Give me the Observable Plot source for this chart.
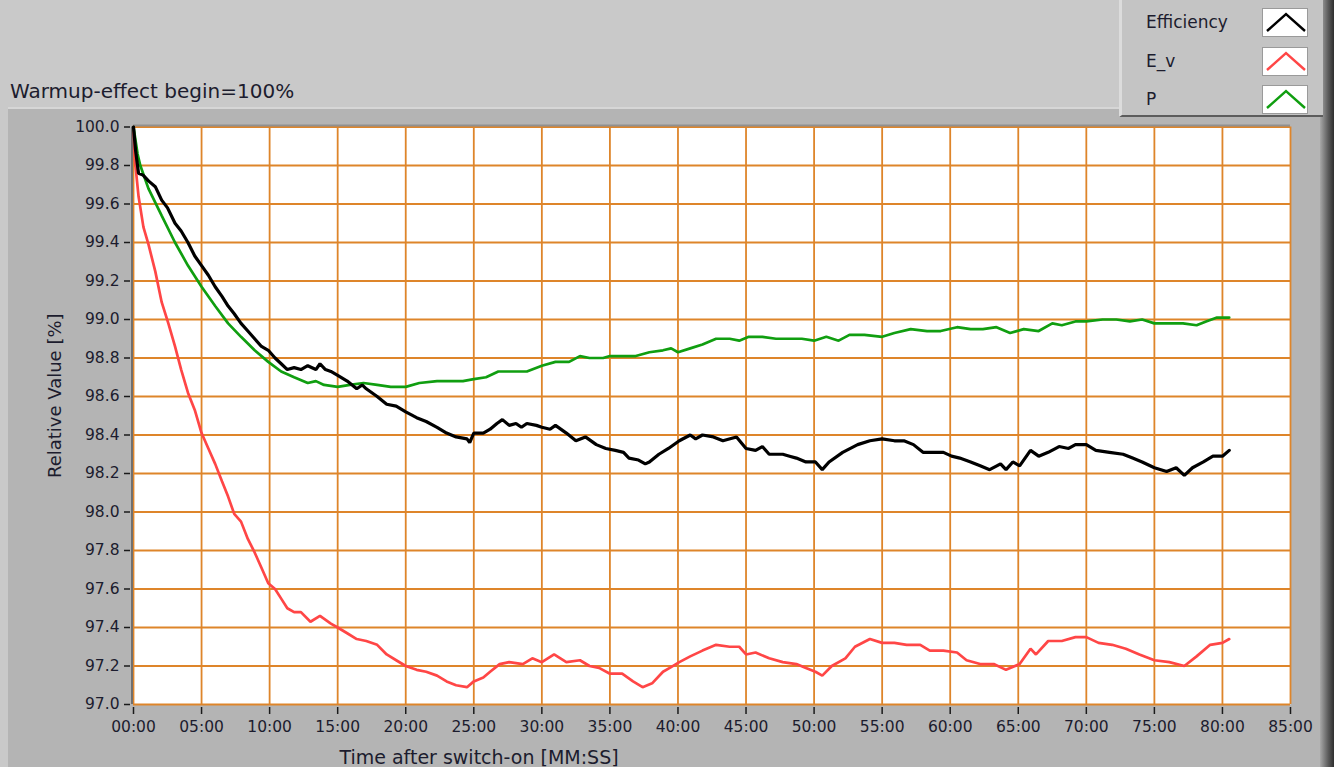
<!DOCTYPE html>
<html>
<head>
<meta charset="utf-8">
<script src="https://cdn.jsdelivr.net/npm/d3@7"></script>
<script src="https://cdn.jsdelivr.net/npm/@observablehq/plot@0.6"></script>
<style>
html, body { margin: 0; padding: 0; }
body { width: 1334px; height: 767px; background: #c9c9c9; position: relative; overflow: hidden;
  font-family: "DejaVu Sans", sans-serif; color: #1c1c2e; }
#panel { position: absolute; left: 8px; top: 107px; width: 1312px; height: 660px; background: #b4b4b4;
  border-top: 2px solid #d6d6d6; }
#rightedge { position: absolute; left: 1320px; top: 0; width: 14px; height: 767px;
  background: linear-gradient(to right, #a8a8a8, #5a5a5a 60%, #2e2e2e); }
#title { position: absolute; left: 10px; top: 79px; font-size: 20px; white-space: nowrap; }
#legend { position: absolute; left: 1119px; top: 0; width: 201px; height: 115px; background: #c4c4c4;
  border-left: 3px solid #dcdcdc; border-bottom: 2px solid #5c5c5c; }
.item { position: absolute; left: 24px; font-size: 17px; white-space: nowrap; }
.sw { position: absolute; left: 140px; width: 46px; height: 29px; background: #fff; border: 1px solid #9a9a9a; box-sizing: border-box; }
#chart { position: absolute; left: 0; top: 100px; }
</style>
</head>
<body>
<div id="panel"></div>
<div id="rightedge"></div>
<div id="title"></div>
<div id="legend"></div>
<div id="chart"></div>
<script>
// ---- Data (minutes after switch-on, relative value %) ----
const titleText = "Warmup-effect begin=100%";
const xLabel = "Time after switch-on [MM:SS]";
const yLabel = "Relative Value [%]";
const seriesNames = ["Efficiency", "E_v", "P"];
const xTicks = [0, 5, 10, 15, 20, 25, 30, 35, 40, 45, 50, 55, 60, 65, 70, 75, 80, 85];
const yTicks = [97.0, 97.2, 97.4, 97.6, 97.8, 98.0, 98.2, 98.4, 98.6, 98.8, 99.0, 99.2, 99.4, 99.6, 99.8, 100.0];

const efficiency = [
  [0,100.0],[0.15,99.88],[0.37,99.76],[0.7,99.75],[1.1,99.72],[1.6,99.69],[2.07,99.62],[2.5,99.58],[3.05,99.50],[3.5,99.46],[4.0,99.40],
  [4.5,99.33],[5.0,99.28],[5.5,99.23],[6.0,99.17],[6.5,99.12],[6.95,99.07],[7.4,99.03],[7.9,98.98],[8.4,98.94],[8.9,98.90],[9.4,98.86],[9.9,98.84],
  [10.4,98.80],[10.85,98.77],[11.3,98.74],[11.8,98.75],[12.3,98.74],[12.8,98.76],[13.4,98.74],[13.7,98.77],[14.1,98.74],[14.5,98.73],
  [15,98.71],[15.7,98.68],[16.4,98.64],[16.8,98.66],[17.1,98.64],[17.9,98.60],[18.6,98.56],[19.3,98.55],[20,98.52],
  [20.8,98.49],[21.5,98.47],[22.3,98.44],[23.0,98.41],[23.7,98.39],[24.5,98.38],[24.7,98.36],[25,98.41],[25.7,98.41],
  [26.2,98.43],[26.7,98.46],[27.1,98.48],[27.6,98.45],[28.1,98.46],[28.5,98.44],[28.9,98.46],[29.6,98.45],[30,98.44],[30.6,98.43],[31.0,98.45],
  [31.8,98.41],[32.5,98.37],[33.2,98.39],[34.0,98.35],[34.7,98.33],[35.4,98.32],[36.0,98.31],[36.4,98.28],[37.1,98.27],[37.6,98.25],[37.9,98.26],
  [38.6,98.30],[39.3,98.33],[40.1,98.37],[40.9,98.40],[41.3,98.38],[41.8,98.40],[42.6,98.39],[43.3,98.37],[44.3,98.39],
  [45,98.33],[45.7,98.32],[46.2,98.34],[46.7,98.30],[47.7,98.30],[48.2,98.29],[48.7,98.28],[49.4,98.26],[50.1,98.26],[50.6,98.22],[51.1,98.26],
  [52.1,98.31],[53.2,98.35],[54.1,98.37],[55,98.38],[55.9,98.37],[56.6,98.37],[57.3,98.35],[58.0,98.31],[58.8,98.31],
  [59.5,98.31],[60.1,98.29],[60.7,98.28],[61.5,98.26],[62.2,98.24],[62.9,98.22],[63.7,98.25],[64.1,98.22],[64.6,98.26],
  [65.1,98.24],[65.9,98.32],[66.5,98.29],[67.2,98.31],[68.0,98.34],[68.7,98.33],[69.2,98.35],[70,98.35],[70.7,98.32],
  [71.7,98.31],[72.7,98.30],[73.4,98.28],[74.1,98.26],[75,98.23],[75.9,98.21],[76.6,98.23],[77.2,98.19],[77.8,98.23],
  [78.6,98.26],[79.3,98.29],[80,98.29],[80.5,98.32]
];

const eV = [
  [0,100.0],[0.1,99.83],[0.37,99.64],[0.73,99.48],[1.1,99.39],[1.6,99.25],[2.07,99.09],[2.56,98.98],[3.05,98.86],
  [3.5,98.74],[4.0,98.62],[4.5,98.53],[5.0,98.41],[5.5,98.33],[6.0,98.25],[6.5,98.16],[6.95,98.08],[7.4,97.99],
  [7.9,97.95],[8.4,97.86],[8.9,97.79],[9.4,97.71],[9.9,97.63],[10.4,97.60],[10.85,97.55],[11.3,97.50],[11.8,97.48],
  [12.3,97.48],[13.0,97.43],[13.7,97.46],[14.5,97.42],[15,97.40],[15.7,97.37],[16.4,97.34],[17.1,97.33],[17.9,97.31],
  [18.6,97.26],[19.3,97.23],[20,97.20],[20.8,97.18],[21.5,97.17],[22.3,97.15],[23.0,97.12],[23.7,97.10],[24.5,97.09],
  [25,97.12],[25.7,97.14],[26.2,97.17],[26.9,97.21],[27.6,97.22],[28.6,97.21],[29.3,97.24],[30,97.22],[30.9,97.26],
  [31.8,97.22],[32.8,97.23],[33.5,97.20],[34.2,97.19],[35,97.16],[35.9,97.16],[36.7,97.12],[37.4,97.09],[38.1,97.11],
  [38.9,97.17],[39.4,97.19],[40.1,97.22],[40.9,97.25],[41.8,97.28],[42.8,97.31],[43.8,97.30],[44.5,97.30],[45,97.26],
  [45.7,97.27],[46.7,97.24],[47.7,97.22],[48.7,97.21],[49.4,97.19],[50.1,97.17],[50.6,97.15],[51.3,97.20],[52.3,97.24],
  [53.0,97.30],[54.1,97.34],[55,97.32],[55.9,97.32],[56.8,97.31],[57.8,97.31],[58.5,97.28],[59.5,97.28],[60.5,97.27],
  [61.2,97.23],[62.2,97.21],[63.2,97.21],[64.1,97.18],[65.1,97.21],[65.9,97.29],[66.3,97.26],[67.2,97.33],[68.2,97.33],
  [69.2,97.35],[70,97.35],[70.9,97.32],[71.9,97.31],[72.9,97.29],[73.9,97.26],[75,97.23],[76.1,97.22],[77.2,97.20],
  [78.1,97.25],[79.1,97.31],[80,97.32],[80.5,97.34]
];

const power = [
  [0,100.0],[0.3,99.86],[0.5,99.80],[1.1,99.68],[2.07,99.54],[3.05,99.40],[4.0,99.28],[5.0,99.17],[6.0,99.07],
  [6.95,98.98],[7.9,98.91],[8.9,98.84],[9.9,98.78],[10.85,98.73],[11.8,98.70],[12.8,98.67],[13.4,98.68],[14.0,98.66],
  [15,98.65],[15.9,98.66],[16.9,98.67],[17.9,98.66],[18.9,98.65],[20,98.65],[21,98.67],[22.3,98.68],[23.2,98.68],
  [24.2,98.68],[25,98.69],[25.9,98.70],[26.8,98.73],[27.1,98.73],[28.1,98.73],[28.9,98.73],[30,98.76],[31,98.78],
  [32,98.78],[32.8,98.81],[33.5,98.80],[34.5,98.80],[35,98.81],[35.9,98.81],[36.9,98.81],[37.9,98.83],[38.9,98.84],
  [39.5,98.85],[40,98.83],[40.9,98.85],[41.8,98.87],[42.8,98.90],[43.8,98.90],[44.5,98.89],[45.2,98.91],[46.2,98.91],
  [47.2,98.90],[48.2,98.90],[49.1,98.90],[50,98.89],[50.9,98.91],[51.8,98.89],[52.6,98.92],[53.7,98.92],[55,98.91],
  [55.9,98.93],[57.1,98.95],[58.3,98.94],[59.3,98.94],[60.5,98.96],[61.5,98.95],[62.4,98.95],[63.4,98.96],[64.4,98.93],
  [65.4,98.95],[66.5,98.94],[67.5,98.98],[68.2,98.97],[69.2,98.99],[70,98.99],[71.2,99.00],[72.2,99.00],[73.2,98.99],
  [74.1,99.00],[75,98.98],[76.1,98.98],[77.1,98.98],[78.1,98.97],[78.8,98.99],[79.6,99.01],[80.5,99.01]
];

// ---- Styles ----
const colors = {"Efficiency": "#000000", "E_v": "#ff4646", "P": "#109e10"};
const gridColor = "#de852a";
const textColor = "#1c1c2e";

const toRows = (arr, s) => arr.map(([t, v]) => ({t, v, s}));

document.getElementById("title").textContent = titleText;

// Legend
const legend = document.getElementById("legend");
seriesNames.forEach((name, i) => {
  const top = 8 + i * 38.5;
  const lab = document.createElement("div");
  lab.className = "item";
  lab.style.top = (top + 4) + "px";
  lab.textContent = name;
  legend.appendChild(lab);
  const sw = document.createElement("div");
  sw.className = "sw";
  sw.style.top = top + "px";
  sw.innerHTML = `<svg width="44" height="27"><polyline points="4,22 23,5 42,22" fill="none" stroke="${colors[name]}" stroke-width="2.4"/></svg>`;
  legend.appendChild(sw);
});

const fmtX = m => String(m).padStart(2, "0") + ":00";

const chart = Plot.plot({
  width: 1334,
  height: 667,
  marginLeft: 133,
  marginRight: 44,
  marginTop: 26.5,
  marginBottom: 63,
  style: {background: "transparent", fontFamily: "DejaVu Sans", fontSize: "15.5px", color: textColor, overflow: "visible"},
  x: {domain: [0, 85]},
  y: {domain: [97, 100]},
  marks: [
    Plot.frame({fill: "white", stroke: null}),
    Plot.gridX(xTicks, {stroke: gridColor, strokeOpacity: 1, strokeWidth: 1.8}),
    Plot.gridY(yTicks, {stroke: gridColor, strokeOpacity: 1, strokeWidth: 1.8}),
    Plot.ruleX([0], {stroke: "#707070", strokeWidth: 2, dx: -1.5}),
    Plot.ruleY([100], {stroke: "#909090", strokeWidth: 2, dy: -1.5}),
    Plot.line(toRows(eV, "E_v"), {x: "t", y: "v", stroke: colors["E_v"], strokeWidth: 2.7, strokeLinejoin: "miter"}),
    Plot.line(toRows(power, "P"), {x: "t", y: "v", stroke: colors["P"], strokeWidth: 2.7, strokeLinejoin: "miter"}),
    Plot.line(toRows(efficiency, "Efficiency"), {x: "t", y: "v", stroke: colors["Efficiency"], strokeWidth: 3.2, strokeLinejoin: "miter"}),
    Plot.axisX(xTicks, {tickFormat: fmtX, tickSize: 7, dy: 3, tickPadding: 6, label: null, stroke: "#1a1a1a", strokeWidth: 1.5}),
    Plot.axisY(yTicks, {tickFormat: d => d.toFixed(1), tickSize: 6, dx: -3, tickPadding: 5, label: null, stroke: "#1a1a1a", strokeWidth: 1.5}),
    Plot.text([yLabel], {text: d => d, frameAnchor: "left", textAnchor: "middle", rotate: -90, dx: -78, dy: -20, fontSize: 18, fill: textColor}),
    Plot.text([xLabel], {text: d => d, frameAnchor: "bottom", textAnchor: "middle", lineAnchor: "middle", dx: -233, dy: 53, fontSize: 19, fill: textColor})
  ]
});
document.getElementById("chart").appendChild(chart);
</script>
</body>
</html>
